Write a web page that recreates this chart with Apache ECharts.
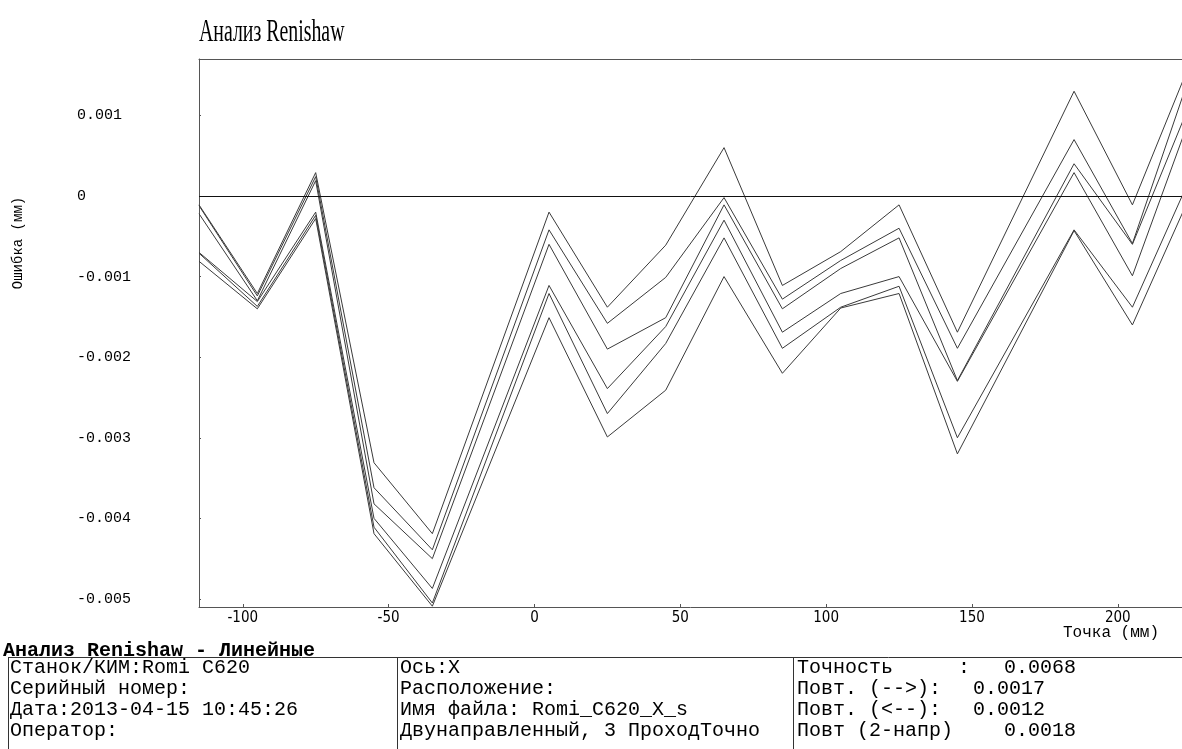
<!DOCTYPE html>
<html>
<head>
<meta charset="utf-8">
<script src="https://cdn.jsdelivr.net/npm/echarts@6/dist/echarts.min.js"></script>
<style>
  html, body { margin: 0; padding: 0; background: #fff; }
  #chart { width: 1182px; height: 749px; }
</style>
</head>
<body>
<div id="chart"></div>
<script>
// точки измерения, мм
const pointsMm = [-115, -95, -75, -55, -35, 5, 25, 45, 65, 85, 105, 125, 145, 185, 205, 225];

// ошибка по каждому проходу, мм
const run1 = [-0.00011, -0.00121, 0.00029, -0.00331, -0.00419, -0.00020, -0.00138, -0.00061, 0.00060, -0.00111, -0.00069, -0.00011, -0.00169, 0.00130, -0.00011, 0.00167];
const run2 = [-0.00012, -0.00124, 0.00024, -0.00362, -0.00439, -0.00042, -0.00158, -0.00101, -0.00002, -0.00128, -0.00080, -0.00040, -0.00189, 0.00070, -0.00059, 0.00153];
const run3 = [-0.00022, -0.00130, 0.00019, -0.00382, -0.00450, -0.00060, -0.00190, -0.00151, -0.00011, -0.00140, -0.00090, -0.00052, -0.00229, 0.00040, -0.00060, 0.00117];
const run4 = [-0.00070, -0.00131, -0.00020, -0.00400, -0.00487, -0.00111, -0.00239, -0.00162, -0.00030, -0.00169, -0.00121, -0.00100, -0.00230, 0.00029, -0.00099, 0.00100];
const run5 = [-0.00071, -0.00137, -0.00024, -0.00411, -0.00505, -0.00121, -0.00270, -0.00183, -0.00052, -0.00189, -0.00138, -0.00112, -0.00300, -0.00042, -0.00138, 0.00024];
const run6 = [-0.00081, -0.00140, -0.00028, -0.00419, -0.00509, -0.00151, -0.00299, -0.00241, -0.00100, -0.00220, -0.00139, -0.00121, -0.00320, -0.00043, -0.00160, 0.00002];
const runs = [run1, run2, run3, run4, run5, run6];

// таблица под графиком
const infoCol1 = ['Станок/КИМ:Romi C620', 'Серийный номер:', 'Дата:2013-04-15 10:45:26', 'Оператор:'];
const infoCol2 = ['Ось:X', 'Расположение:', 'Имя файла: Romi_C620_X_s', 'Двунаправленный, 3 ПроходТочно'];
const statNames = ['Точность', 'Повт. (-->):', 'Повт. (<--):', 'Повт (2-напр)'];
const statValues = ['0.0068', '0.0017', '0.0012', '0.0018'];

const chart = echarts.init(document.getElementById('chart'));

const mono = '"Liberation Mono", "DejaVu Sans Mono", monospace';
const rowY = [668, 689, 710, 731];
const statValueX = [1004, 973, 973, 1004];

const series = runs.map((run, k) => ({
  type: 'line',
  xAxisIndex: 0,
  symbol: 'none',
  silent: true,
  lineStyle: { color: '#3a3a3a', width: 1 },
  data: run.map((v, i) => [pointsMm[i], v]),
  // нулевая линия
  markLine: k === 0 ? {
    silent: true,
    symbol: 'none',
    label: { show: false },
    lineStyle: { color: '#111', width: 1, type: 'solid' },
    data: [{ yAxis: 0 }]
  } : undefined
}));

const textEl = (x, y, text, font, extra) => Object.assign({
  type: 'text', x: x, y: y, silent: true,
  style: { text: text, font: font, fill: '#000', verticalAlign: 'middle' }
}, extra || {});

const lineEl = (x1, y1, x2, y2) => ({
  type: 'line', silent: true,
  shape: { x1: x1, y1: y1, x2: x2, y2: y2 },
  style: { stroke: '#333', lineWidth: 1 }
});

const graphic = [
  textEl(199, 33, 'Анализ Renishaw', '32px "Liberation Serif", serif', { scaleX: 0.62 }),
  {
    type: 'text', x: 18, y: 243, rotation: Math.PI / 2, silent: true,
    style: { text: 'Ошибка (мм)', font: '14px ' + mono, fill: '#000', align: 'center', verticalAlign: 'middle' }
  },
  textEl(1063, 633, 'Точка (мм)', '16px ' + mono),
  textEl(3, 651, 'Анализ Renishaw - Линейные', 'bold 20px ' + mono),
  lineEl(8, 657.5, 1182, 657.5),
  lineEl(8.5, 657, 8.5, 749),
  lineEl(397.5, 657, 397.5, 749),
  lineEl(793.5, 657, 793.5, 749),
  textEl(958, rowY[0], ':', '20px ' + mono)
];
rowY.forEach((y, i) => {
  graphic.push(textEl(10, y, infoCol1[i], '20px ' + mono));
  graphic.push(textEl(400, y, infoCol2[i], '20px ' + mono));
  graphic.push(textEl(797, y, statNames[i], '20px ' + mono));
  graphic.push(textEl(statValueX[i], y, statValues[i], '20px ' + mono));
});

chart.setOption({
  animation: false,
  backgroundColor: '#fff',
  grid: { left: 199, right: 0, top: 59, bottom: 142 },
  xAxis: [{
    type: 'value',
    min: -115,
    max: 222,
    axisLine: { show: true, onZero: false, lineStyle: { color: '#555', width: 1 } },
    axisTick: { show: true, inside: true, length: 3, lineStyle: { color: '#555' } },
    splitLine: { show: false },
    axisLabel: {
      showMinLabel: false, showMaxLabel: false,
      color: '#000', margin: 4,
      fontFamily: '"DejaVu Sans Condensed", "Liberation Sans", sans-serif', fontSize: 15
    }
  }, {
    type: 'value',
    position: 'top',
    min: -115,
    max: 222,
    axisLine: { show: true, onZero: false, lineStyle: { color: '#555', width: 1 } },
    axisTick: { show: false },
    axisLabel: { show: false },
    splitLine: { show: false }
  }],
  yAxis: {
    type: 'value',
    min: -0.0051,
    max: 0.0017,
    axisLine: { show: true, onZero: false, lineStyle: { color: '#555', width: 1 } },
    axisTick: { show: true, inside: true, length: 2, lineStyle: { color: '#555' } },
    splitLine: { show: false },
    axisLabel: {
      showMinLabel: false, showMaxLabel: false,
      color: '#000', align: 'left', margin: 122,
      fontFamily: mono, fontSize: 15,
      formatter: v => String(+v.toFixed(3))
    }
  },
  series: series,
  graphic: graphic
});
</script>
</body>
</html>
